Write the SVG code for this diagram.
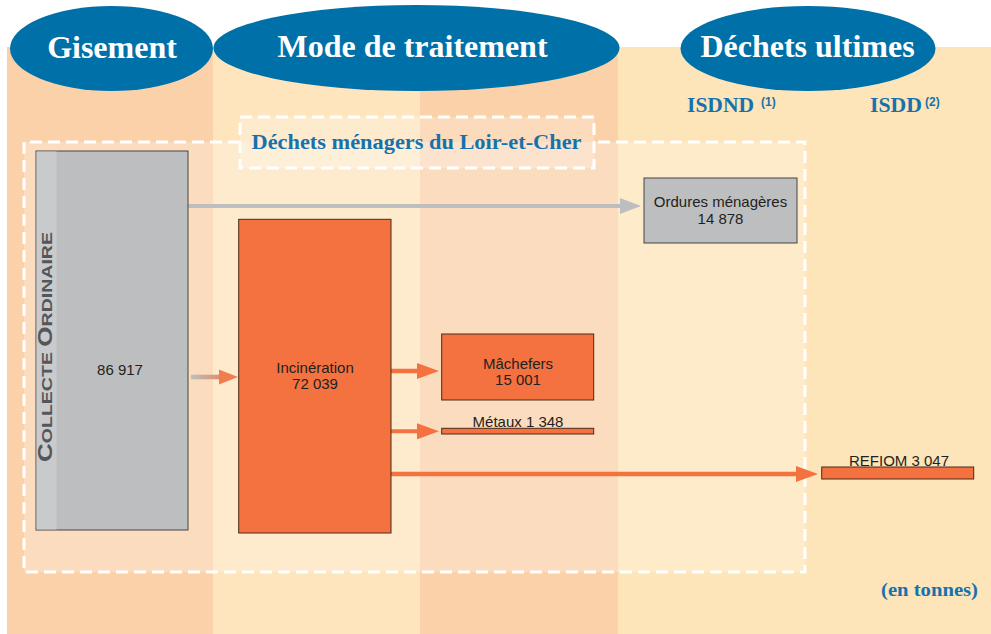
<svg xmlns="http://www.w3.org/2000/svg" width="991" height="634" viewBox="0 0 991 634">
<style>
.head{font-family:"Liberation Serif","Times New Roman",serif;font-weight:bold;fill:#ffffff;font-size:32px;text-anchor:middle}
.blue{font-family:"Liberation Serif","Times New Roman",serif;font-weight:bold;fill:#1672ad}
.sup{font-family:"Liberation Sans",Arial,sans-serif;font-weight:bold;fill:#1672ad;font-size:12px}
.lbl{font-family:"Liberation Sans",Arial,sans-serif;font-size:15px;fill:#231f20;text-anchor:middle}
.ell{fill:#0070a8}
.gray{fill:#bdbec0;stroke:#444444;stroke-width:1}
.orange{fill:#f37240;stroke:#4a2a1a;stroke-width:1}
.dash{fill:none;stroke:#ffffff;stroke-width:3;stroke-dasharray:12 6}
</style>
<defs>
<linearGradient id="g1" gradientUnits="userSpaceOnUse" x1="191" y1="0" x2="238" y2="0">
<stop offset="0" stop-color="#bdbec0"/>
<stop offset="1" stop-color="#f37240"/>
</linearGradient>
<marker id="ag" markerUnits="userSpaceOnUse" markerWidth="21" markerHeight="16" viewBox="0 0 21 16" refX="11" refY="8" orient="auto">
<path d="M0,0 L21,8 L0,16 z" fill="#bdbec0"/>
</marker>
<marker id="ao" markerUnits="userSpaceOnUse" markerWidth="22" markerHeight="16" viewBox="0 0 22 16" refX="12" refY="8" orient="auto">
<path d="M0,0 L22,8 L0,16 z" fill="#f37240"/>
</marker>
</defs>

<g id="background">
<rect x="0" y="0" width="991" height="634" fill="#ffffff"/>
<rect x="7" y="47" width="206" height="587" fill="#fbd1aa"/>
<rect x="213" y="47" width="207" height="587" fill="#fee5be"/>
<rect x="420" y="47" width="198" height="587" fill="#fbd1aa"/>
<rect x="618" y="47" width="373" height="587" fill="#fee4b9"/>
</g>

<g id="frame">
<rect x="24" y="142" width="781" height="430" fill="#ffffff" fill-opacity="0.25"/>
<path class="dash" d="M240,142 L24,142 L24,572 L805,572 L805,142 L594,142"/>
<rect x="240" y="117" width="354" height="51" fill="#ffffff" fill-opacity="0.22"/>
<rect class="dash" x="240" y="117" width="354" height="51"/>
<text class="blue" x="416.5" y="149" font-size="22" text-anchor="middle" textLength="330" lengthAdjust="spacingAndGlyphs">Déchets ménagers du Loir-et-Cher</text>
</g>

<g id="header-gisement">
<ellipse class="ell" cx="111.5" cy="48.5" rx="101.5" ry="42.5"/>
<text class="head" x="112" y="58">Gisement</text>
</g>
<g id="header-traitement">
<ellipse class="ell" cx="416.5" cy="48" rx="203" ry="43"/>
<text class="head" x="412.5" y="57">Mode de traitement</text>
</g>
<g id="header-ultimes">
<ellipse class="ell" cx="808" cy="48.5" rx="127.5" ry="42.5"/>
<text class="head" x="807.5" y="57">Déchets ultimes</text>
</g>
<g id="sub-isdnd">
<text class="blue" x="687" y="112" font-size="20" textLength="67" lengthAdjust="spacingAndGlyphs">ISDND</text>
<text class="sup" x="761" y="106">(1)</text>
</g>
<g id="sub-isdd">
<text class="blue" x="870" y="112" font-size="20" textLength="52" lengthAdjust="spacingAndGlyphs">ISDD</text>
<text class="sup" x="925" y="106">(2)</text>
</g>

<g id="connectors">
<line x1="188" y1="206" x2="631" y2="206" stroke="#bdbec0" stroke-width="4" marker-end="url(#ag)"/>
<rect x="191" y="374.7" width="30" height="4.6" fill="url(#g1)"/>
<path d="M219,369.5 L238,377 L219,384.5 z" fill="#f07d50"/>
<line x1="391" y1="371" x2="429" y2="371" stroke="#f37240" stroke-width="4.3" marker-end="url(#ao)"/>
<line x1="391" y1="431.3" x2="429" y2="431.3" stroke="#f37240" stroke-width="4" marker-end="url(#ao)"/>
<line x1="391" y1="474" x2="808" y2="474" stroke="#f37240" stroke-width="4.3" marker-end="url(#ao)"/>
</g>

<g id="node-collecte">
<rect class="gray" x="36" y="151" width="152" height="379"/>
<rect x="36.5" y="151.5" width="20" height="378" fill="#c9cacc"/>
<text x="52" y="462" transform="rotate(-90 52 462)" font-family="'Liberation Sans',Arial,sans-serif" font-weight="bold" fill="#555658" textLength="230" lengthAdjust="spacingAndGlyphs"><tspan font-size="20">C</tspan><tspan font-size="15">OLLECTE </tspan><tspan font-size="20">O</tspan><tspan font-size="15">RDINAIRE</tspan></text>
<text class="lbl" x="120" y="375">86 917</text>
</g>

<g id="node-incineration">
<rect class="orange" x="238.7" y="219.3" width="152.3" height="313.7"/>
<text class="lbl" x="315" y="373">Incinération</text>
<text class="lbl" x="315" y="389">72 039</text>
</g>

<g id="node-machefers">
<rect class="orange" x="441.7" y="334" width="152" height="66"/>
<text class="lbl" x="518" y="369">Mâchefers</text>
<text class="lbl" x="518" y="385">15 001</text>
</g>

<g id="node-metaux">
<rect class="orange" x="441.7" y="428.3" width="152" height="5.7"/>
<text class="lbl" x="518" y="427">Métaux 1 348</text>
</g>

<g id="node-ordures">
<rect class="gray" x="644" y="178" width="153" height="65"/>
<text class="lbl" x="720.5" y="207" font-size="14.5">Ordures ménagères</text>
<text class="lbl" x="720.5" y="224" font-size="14.5">14 878</text>
</g>

<g id="node-refiom">
<rect class="orange" x="821.7" y="467" width="152" height="12"/>
<text class="lbl" x="899" y="466">REFIOM 3 047</text>
</g>

<g id="note">
<text class="blue" x="881" y="596" font-size="18" textLength="97" lengthAdjust="spacingAndGlyphs">(en tonnes)</text>
</g>
</svg>
